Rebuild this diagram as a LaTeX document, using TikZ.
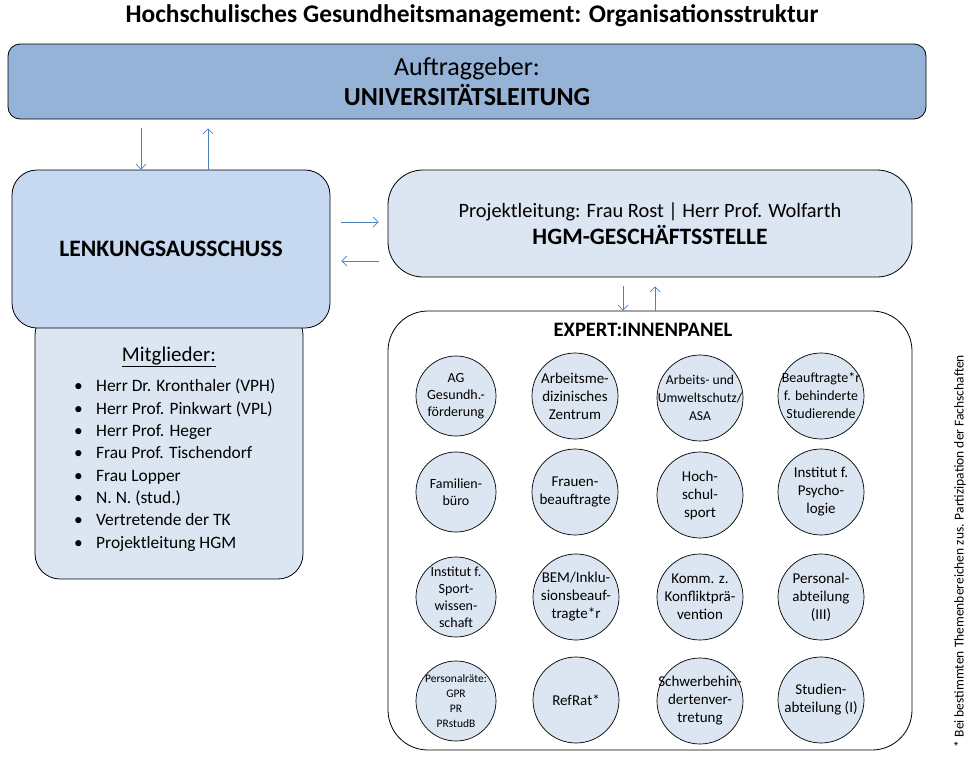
\documentclass[tikz,border=0pt]{standalone}
\usepackage{fontspec}
\setmainfont{Carlito}
\usetikzlibrary{arrows.meta}
\definecolor{dunkelblau}{HTML}{95B3D7}
\definecolor{mittelblau}{HTML}{C6D9F1}
\definecolor{hellblau}{HTML}{DCE6F2}
\definecolor{pfeilblau}{HTML}{4F81BD}
\newcommand{\fs}[2]{\fontsize{#1}{#2}\selectfont}
\newcommand{\pkt}{\makebox[22pt][l]{\textbullet}}

\begin{document}
\begin{tikzpicture}[x=1pt,y=-1pt,
    box/.style={draw,line width=0.8pt,align=center,inner sep=0pt},
    circ/.style={draw,circle,line width=0.7pt,fill=hellblau,minimum size=86pt,inner sep=-25pt,align=center,font=\fs{15}{18}},
    klein/.style={minimum size=80pt,font=\fs{14}{17}},
    pfeil/.style={draw=pfeilblau,line width=0.7pt,-{Straight Barb[length=5pt,width=10pt]}}]
    \useasboundingbox (0,0) rectangle (970,756);
    \node[font=\fs{25.4}{28}\bfseries](titel)at (472,16){Hochschulisches Gesundheitsmanagement: Organisationsstruktur};
    \node[box,fill=dunkelblau,rounded corners=12pt,minimum width=918pt,minimum height=75pt,font=\fs{26}{30}](top)at (467,81.5){Auftraggeber:\\\textbf{UNIVERSITÄTSLEITUNG}};
    \node[box,fill=hellblau,rounded corners=25pt,minimum width=268pt,minimum height=269pt](mitgl)at (169,444.5){};
    \node[box,fill=mittelblau,rounded corners=25pt,minimum width=318pt,minimum height=158pt,font=\fs{23.6}{26}\bfseries](lenk)at (171,249){LENKUNGSAUSSCHUSS};
    \node[box,fill=hellblau,rounded corners=35pt,minimum width=524pt,minimum height=107pt,font=\fs{20.4}{27}](hgm)at (650,223.5){Projektleitung: Frau Rost | Herr Prof. Wolfarth\\{\fs{23.5}{27}\bfseries HGM-GESCHÄFTSSTELLE}};
    \node[box,fill=white,rounded corners=40pt,minimum width=524pt,minimum height=439pt](exp)at (650,530.5){};
    \node[font=\fs{20.5}{24}\bfseries](exptitel)at (643,330){EXPERT:INNENPANEL};
    \node[font=\fs{21}{24}](mtitel)at (169,357){\underline{Mitglieder:}};
    \node[anchor=north west,align=left,inner sep=0pt,font=\fs{17.4}{22.3}](mliste)at (74,379){%
        \pkt Herr Dr. Kronthaler (VPH)\\
        \pkt Herr Prof. Pinkwart (VPL)\\
        \pkt Herr Prof. Heger\\
        \pkt Frau Prof. Tischendorf\\
        \pkt Frau Lopper\\
        \pkt N. N. (stud.)\\
        \pkt Vertretende der TK\\
        \pkt Projektleitung HGM};
    \node[circ,klein](ag)at (456,396){AG\\Gesundh.-\\förderung};
    \node[circ](amz)at (575,396){Arbeitsme-\\dizinisches\\Zentrum};
    \node[circ,font=\fs{13.6}{18}](asa)at (700,398){Arbeits- und\\Umweltschutz/\\ASA};
    \node[circ,font=\fs{14}{18}](bbs)at (821,396){Beauftragte*r\\f. behinderte\\Studierende};
    \node[circ,klein](fam)at (456,492){Familien-\\büro};
    \node[circ](frau)at (575,492){Frauen-\\beauftragte};
    \node[circ](hsp)at (700,495){Hoch-\\schul-\\sport};
    \node[circ](psy)at (821,492){Institut f.\\Psycho-\\logie};
    \node[circ,klein](spw)at (456,597){Institut f.\\Sport-\\wissen-\\schaft};
    \node[circ](bem)at (576,597){BEM/Inklu-\\sionsbeauf-\\tragte*r};
    \node[circ](kkp)at (700,597){Komm. z.\\Konfliktprä-\\vention};
    \node[circ](pers)at (821,597){Personal-\\abteilung\\(III)};
    \node[circ,klein,font=\fs{11.5}{15}](pr)at (456,701){Personalräte:\\GPR\\PR\\PRstudB};
    \node[circ](ref)at (576,700){RefRat*};
    \node[circ](sbv)at (700,701){Schwerbehin-\\dertenver-\\tretung};
    \node[circ](stud)at (821,700){Studien-\\abteilung (I)};
    \node[rotate=90,font=\fs{13.5}{16}](fn)at (960,551){* Bei bestimmten Themenbereichen zus. Partizipation der Fachschaften};
    \draw[pfeil,shorten <=9pt]([xshift=-30pt]lenk.north |- top.south)--([xshift=-30pt]lenk.north);
    \draw[pfeil,shorten >=9pt]([xshift=37pt]lenk.north)--([xshift=37pt]lenk.north |- top.south);
    \draw[pfeil,shorten <=11pt,shorten >=9pt]([yshift=27pt]lenk.east)--([yshift=27pt]lenk.east -| hgm.west);
    \draw[pfeil,shorten <=9pt,shorten >=11pt]([yshift=-12pt]lenk.east -| hgm.west)--([yshift=-12pt]lenk.east);
    \draw[pfeil,shorten <=9pt]([xshift=-27pt]hgm.south)--([xshift=-27pt]exp.north);
    \draw[pfeil,shorten >=9pt]([xshift=5pt]exp.north)--([xshift=5pt]hgm.south);
\end{tikzpicture}
\end{document}
